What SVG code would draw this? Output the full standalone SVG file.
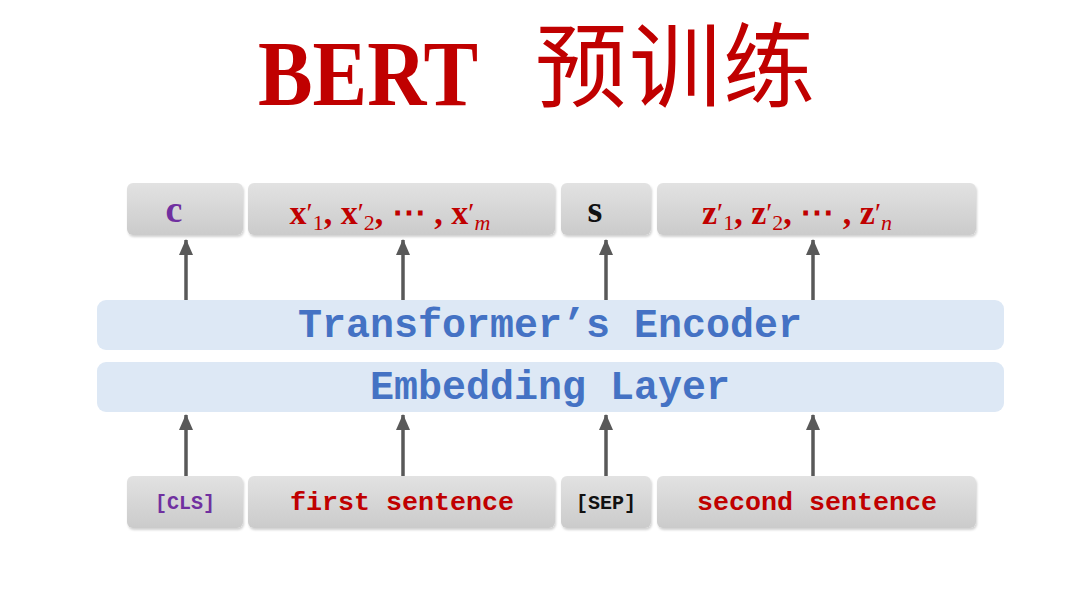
<svg xmlns="http://www.w3.org/2000/svg" width="1080" height="608" viewBox="0 0 1080 608">
<defs>
<linearGradient id="gbox" x1="0" y1="0" x2="0" y2="1">
<stop offset="0" stop-color="#e2e2e2"/>
<stop offset="1" stop-color="#cbcbcb"/>
</linearGradient>
<marker id="ah" viewBox="0 0 16 14" refX="15" refY="7" markerWidth="16" markerHeight="14" markerUnits="userSpaceOnUse" orient="auto">
<path d="M0,0 L16,7 L0,14 Z" fill="#595959"/>
</marker>
<filter id="sh" x="-5%" y="-10%" width="110%" height="130%">
<feDropShadow dx="1" dy="2" stdDeviation="1.2" flood-color="#000" flood-opacity="0.18"/>
</filter>
</defs>
<style>
.box{fill:url(#gbox);filter:url(#sh)}
.bar{fill:#dde8f5}
.mono{font-family:"Liberation Mono","DejaVu Sans Mono",monospace;font-weight:bold}
.math{font-family:"Liberation Serif","DejaVu Serif",serif;font-weight:bold}
.red{fill:#c00000}
.pr{font-weight:normal;font-size:28px}
.sb{font-weight:normal;font-size:22px}
.conn{stroke:#595959;stroke-width:3.5;fill:none}
</style>
<rect width="1080" height="608" fill="#ffffff"/>
<g id="title">
<text x="258" y="105" font-family="Liberation Serif,serif" font-weight="bold" font-size="94" fill="#c00000" textLength="220" lengthAdjust="spacingAndGlyphs">BERT</text>
<text x="535" y="100" font-family="Noto Sans CJK SC,sans-serif" font-size="92" letter-spacing="2" fill="#c00000">预训练</text>
</g>
<g id="out-c">
<rect class="box" x="127" y="183" width="116" height="52" rx="6"/>
<text class="math" x="174" y="222" font-size="38" fill="#7030a0" text-anchor="middle">c</text>
</g>
<g id="out-x">
<rect class="box" x="248" y="183" width="307" height="52" rx="6"/>
<text class="math red" x="390" y="224" font-size="34" text-anchor="middle">x<tspan class="pr" dy="-2">′</tspan><tspan class="sb" dy="8">1</tspan><tspan dy="-6">, x</tspan><tspan class="pr" dy="-2">′</tspan><tspan class="sb" dy="8">2</tspan><tspan dy="-6">, ⋯ , x</tspan><tspan class="pr" dy="-2">′</tspan><tspan class="sb" dy="8" font-style="italic">m</tspan></text>
</g>
<g id="out-s">
<rect class="box" x="561" y="183" width="90" height="52" rx="6"/>
<text class="math" x="595" y="222" font-size="38" fill="#111" text-anchor="middle">s</text>
</g>
<g id="out-z">
<rect class="box" x="657" y="183" width="319" height="52" rx="6"/>
<text class="math red" x="797" y="224" font-size="34" text-anchor="middle">z<tspan class="pr" dy="-2">′</tspan><tspan class="sb" dy="8">1</tspan><tspan dy="-6">, z</tspan><tspan class="pr" dy="-2">′</tspan><tspan class="sb" dy="8">2</tspan><tspan dy="-6">, ⋯ , z</tspan><tspan class="pr" dy="-2">′</tspan><tspan class="sb" dy="8" font-style="italic">n</tspan></text>
</g>
<g id="encoder">
<rect class="bar" x="97" y="300" width="907" height="50" rx="9"/>
<text class="mono" x="550" y="337" font-size="40" fill="#4472c4" text-anchor="middle">Transformer’s Encoder</text>
</g>
<g id="embedding">
<rect class="bar" x="97" y="362" width="907" height="50" rx="9"/>
<text class="mono" x="550" y="399" font-size="40" fill="#4472c4" text-anchor="middle">Embedding Layer</text>
</g>
<g id="in-cls">
<rect class="box" x="127" y="476" width="116" height="52" rx="6"/>
<text class="mono" x="185" y="509" font-size="20" fill="#7030a0" text-anchor="middle">[CLS]</text>
</g>
<g id="in-first">
<rect class="box" x="248" y="476" width="307" height="52" rx="6"/>
<text class="mono red" x="402" y="510" font-size="26.7" text-anchor="middle">first sentence</text>
</g>
<g id="in-sep">
<rect class="box" x="561" y="476" width="90" height="52" rx="6"/>
<text class="mono" x="606" y="509" font-size="20" fill="#111" text-anchor="middle">[SEP]</text>
</g>
<g id="in-second">
<rect class="box" x="657" y="476" width="319" height="52" rx="6"/>
<text class="mono red" x="817" y="510" font-size="26.7" text-anchor="middle">second sentence</text>
</g>
<g id="connectors">
<line class="conn" x1="186" y1="300" x2="186" y2="240" marker-end="url(#ah)"/>
<line class="conn" x1="403" y1="300" x2="403" y2="240" marker-end="url(#ah)"/>
<line class="conn" x1="606" y1="300" x2="606" y2="240" marker-end="url(#ah)"/>
<line class="conn" x1="813" y1="300" x2="813" y2="240" marker-end="url(#ah)"/>
<line class="conn" x1="186" y1="476" x2="186" y2="415" marker-end="url(#ah)"/>
<line class="conn" x1="403" y1="476" x2="403" y2="415" marker-end="url(#ah)"/>
<line class="conn" x1="606" y1="476" x2="606" y2="415" marker-end="url(#ah)"/>
<line class="conn" x1="813" y1="476" x2="813" y2="415" marker-end="url(#ah)"/>
</g>
</svg>
